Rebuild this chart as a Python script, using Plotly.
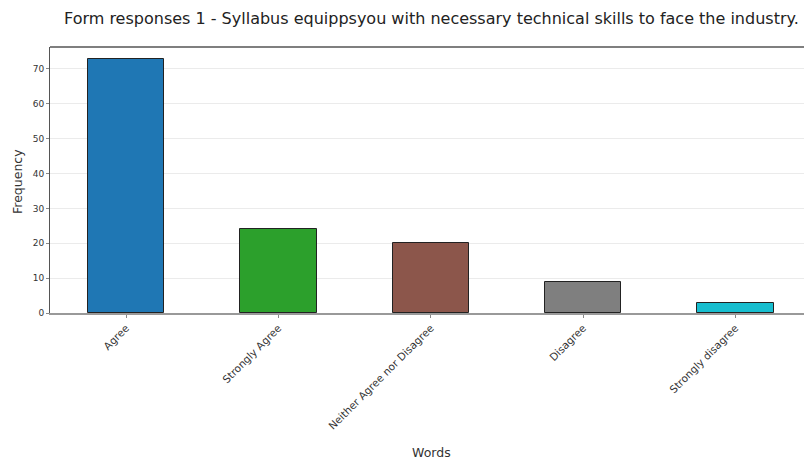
import plotly.graph_objects as go

categories = ["Agree", "Strongly Agree", "Neither Agree nor Disagree", "Disagree", "Strongly disagree"]
frequencies = [73, 24, 20, 9, 3]
bar_colors = ["#1f77b4", "#2ca02c", "#8c564b", "#7f7f7f", "#17becf"]
y_ticks = [0, 10, 20, 30, 40, 50, 60, 70]
title_text = "Form responses 1 - Syllabus equippsyou with necessary technical skills to face the industry."

W, H = 804, 462
ml, mt, mb = 50, 47, 149

fig = go.Figure()
fig.add_trace(go.Bar(
    x=list(range(len(categories))),
    y=frequencies,
    width=0.5,
    marker=dict(color=bar_colors, line=dict(color="#222222", width=1)),
))

fig.update_layout(
    width=W, height=H,
    margin=dict(l=ml, r=0, t=mt, b=mb),
    paper_bgcolor="white", plot_bgcolor="white",
    font=dict(family="DejaVu Sans", color="#333333"),
    showlegend=False,
    bargap=0,
    xaxis=dict(
        range=[-0.5, 4.45],
        tickmode="array",
        tickvals=list(range(len(categories))),
        ticktext=categories,
        tickangle=-45,
        tickfont=dict(size=10.5, color="#333333"),
        ticks="outside", ticklen=3, tickcolor="#888888",
        showline=True, linecolor="#999999", linewidth=1.5,
        showgrid=False, zeroline=False,
        automargin=False,
    ),
    yaxis=dict(
        range=[0, 76.3],
        tickvals=y_ticks,
        tickfont=dict(size=9, color="#333333"),
        ticks="outside", ticklen=3, tickcolor="#888888",
        showline=True, linecolor="#555555", linewidth=1,
        showgrid=True, gridcolor="#ebebeb", gridwidth=1,
        zeroline=False,
        automargin=False,
    ),
)

# top spine
fig.add_shape(type="line", xref="paper", yref="paper", x0=0, x1=1, y0=1, y1=1,
              line=dict(color="#555555", width=1.5))

# title
fig.add_annotation(text=title_text, xref="paper", yref="paper",
                   x=(431 - ml) / (W - ml), y=1, yshift=29, yanchor="middle",
                   xanchor="center", showarrow=False,
                   font=dict(size=16, color="#222222"))

# x-axis title "Words"
fig.add_annotation(text="Words", xref="paper", yref="paper",
                   x=(431 - ml) / (W - ml), y=0, yshift=-(452 - 313),
                   xanchor="center", yanchor="middle", showarrow=False,
                   font=dict(size=12.5, color="#333333"))

# y-axis title "Frequency"
fig.add_annotation(text="Frequency", xref="paper", yref="paper",
                   x=0, xshift=-(ml - 17), y=(313 - 182) / (313 - 47),
                   xanchor="center", yanchor="middle", textangle=-90, showarrow=False,
                   font=dict(size=12.5, color="#333333"))

fig.write_html("out.html",
               config={"displayModeBar": False},
               post_script="document.body.style.margin='0';document.body.style.overflow='hidden';")
